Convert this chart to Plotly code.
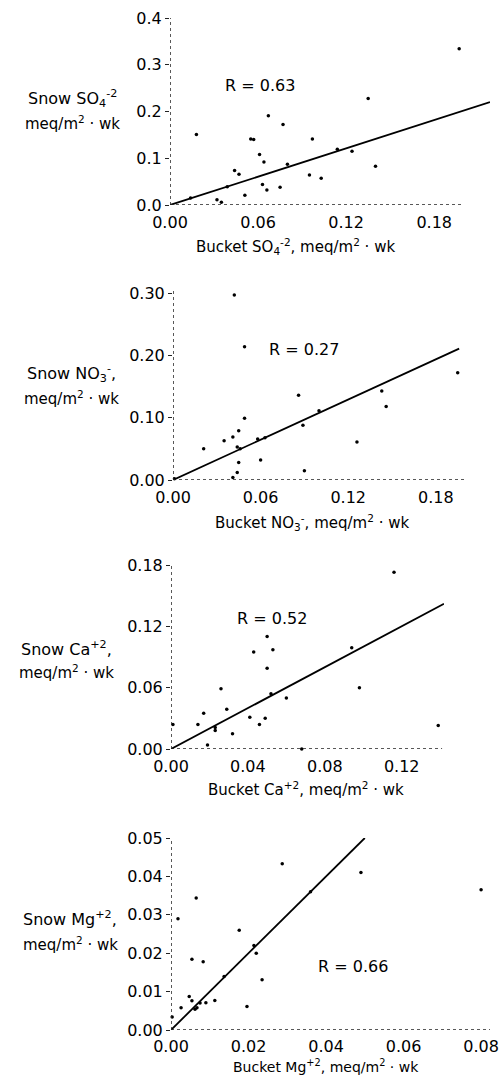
import plotly.graph_objects as go

W, H = 504, 1076
FONT = "DejaVu Sans"

# ---------------- data ----------------
so4_bucket = [0.197, 0.135, 0.067, 0.077, 0.018, 0.055, 0.057, 0.097, 0.061, 0.064, 0.080, 0.114, 0.124,
              0.140, 0.044, 0.047, 0.095, 0.103, 0.039, 0.063, 0.066, 0.075, 0.051, 0.032, 0.035, 0.014]
so4_snow = [0.334, 0.228, 0.191, 0.172, 0.151, 0.141, 0.140, 0.141, 0.108, 0.092, 0.087, 0.119, 0.115,
            0.083, 0.074, 0.066, 0.064, 0.057, 0.039, 0.044, 0.032, 0.038, 0.021, 0.011, 0.006, 0.015]
so4_fit_x = [0.0, 0.218]
so4_fit_y = [0.0, 0.220]

no3_bucket = [0.042, 0.049, 0.195, 0.086, 0.143, 0.146, 0.100, 0.049, 0.089, 0.021, 0.035, 0.041,
              0.045, 0.044, 0.046, 0.058, 0.063, 0.126, 0.060, 0.045, 0.044, 0.041, 0.090, 0.001]
no3_snow = [0.297, 0.214, 0.172, 0.136, 0.143, 0.118, 0.111, 0.099, 0.088, 0.050, 0.063, 0.069,
            0.079, 0.053, 0.050, 0.066, 0.068, 0.061, 0.032, 0.028, 0.012, 0.004, 0.015, 0.002]
no3_fit_x = [0.0, 0.196]
no3_fit_y = [0.0, 0.211]

ca_bucket = [0.116, 0.050, 0.043, 0.053, 0.050, 0.094, 0.098, 0.026, 0.052, 0.060, 0.029, 0.017,
             0.041, 0.049, 0.014, 0.023, 0.023, 0.046, 0.032, 0.019, 0.001, 0.139, 0.068]
ca_snow = [0.173, 0.110, 0.095, 0.097, 0.079, 0.099, 0.060, 0.059, 0.054, 0.050, 0.039, 0.035,
           0.031, 0.030, 0.024, 0.021, 0.018, 0.024, 0.015, 0.004, 0.024, 0.023, 0.000]
ca_fit_x = [0.0, 0.142]
ca_fit_y = [0.0, 0.142]

mg_bucket = [0.0287, 0.049, 0.080, 0.036, 0.0065, 0.0018, 0.0176, 0.0214, 0.022, 0.0054, 0.0083, 0.0137,
             0.0235, 0.0047, 0.0054, 0.0113, 0.009, 0.0075, 0.0026, 0.0067, 0.0062, 0.0196, 0.0003]
mg_snow = [0.0433, 0.041, 0.0365, 0.036, 0.0344, 0.029, 0.026, 0.022, 0.020, 0.0184, 0.0178, 0.0139,
           0.0131, 0.0087, 0.0076, 0.0077, 0.0071, 0.0070, 0.0058, 0.0058, 0.0054, 0.0061, 0.0034]
mg_fit_x = [0.0, 0.050]
mg_fit_y = [0.0, 0.050]

r_labels = ["R = 0.63", "R = 0.27", "R = 0.52", "R = 0.66"]
r_pos_x = [0.061, 0.090, 0.0525, 0.047]
r_pos_y = [0.255, 0.209, 0.128, 0.0165]

x_ticks = [[0.0, 0.06, 0.12, 0.18], [0.0, 0.06, 0.12, 0.18], [0.0, 0.04, 0.08, 0.12], [0.0, 0.02, 0.04, 0.06, 0.08]]
x_ticktext = [["0.00", "0.06", "0.12", "0.18"], ["0.00", "0.06", "0.12", "0.18"],
              ["0.00", "0.04", "0.08", "0.12"], ["0.00", "0.02", "0.04", "0.06", "0.08"]]
y_ticks = [[0.0, 0.1, 0.2, 0.3, 0.4], [0.0, 0.10, 0.20, 0.30], [0.0, 0.06, 0.12, 0.18],
           [0.0, 0.01, 0.02, 0.03, 0.04, 0.05]]
y_ticktext = [["0.0", "0.1", "0.2", "0.3", "0.4"], ["0.00", "0.10", "0.20", "0.30"],
              ["0.00", "0.06", "0.12", "0.18"], ["0.00", "0.01", "0.02", "0.03", "0.04", "0.05"]]

x_titles = ["Bucket SO<sub>4</sub><sup>-2</sup>, meq/m<sup>2</sup> · wk",
            "Bucket NO<sub>3</sub><sup>-</sup>, meq/m<sup>2</sup> · wk",
            "Bucket Ca<sup>+2</sup>, meq/m<sup>2</sup> · wk",
            "Bucket Mg<sup>+2</sup>, meq/m<sup>2</sup> · wk"]
y_titles_1 = ["Snow SO<sub>4</sub><sup>-2</sup>", "Snow NO<sub>3</sub><sup>-</sup>,",
              "Snow Ca<sup>+2</sup>,", "Snow Mg<sup>+2</sup>,"]
y_titles_2 = ["meq/m<sup>2</sup> · wk"] * 4

# axis extents (data units) and ranges
x_range = [[0, 0.218], [0, 0.2], [0, 0.142], [0, 0.0823]]
y_range = [[0, 0.4], [0, 0.305], [0, 0.18], [0, 0.05]]
x_axis_end = [0.2, 0.2, 0.141, 0.0823]
y_axis_end = [0.4, 0.305, 0.18, 0.05]

# ---------------- layout in pixels ----------------
px_x = [(170, 490), (173, 465), (171, 444), (171, 490)]
px_y = [(18, 205), (290, 480), (565, 749), (838, 1030)]  # top, bottom
x_title_px = [(295, 246), (312, 522), (306, 789), (326, 1066)]
x_title_size = [15, 15, 15, 14]
x_tick_len = [3, 3, 3, 2]
y_title_px = [(72, 98, 123), (71, 373, 398), (66, 648, 672), (70, 918, 944)]

panels = [(so4_bucket, so4_snow, so4_fit_x, so4_fit_y),
          (no3_bucket, no3_snow, no3_fit_x, no3_fit_y),
          (ca_bucket, ca_snow, ca_fit_x, ca_fit_y),
          (mg_bucket, mg_snow, mg_fit_x, mg_fit_y)]

fig = go.Figure()
layout = dict(template="none", width=W, height=H,
              margin=dict(l=0, r=0, t=0, b=0, pad=0, autoexpand=False),
              paper_bgcolor="white", plot_bgcolor="white", showlegend=False,
              font=dict(family=FONT, size=16, color="black"))
annotations = []
shapes = []

for i, (bx, sy, fx, fy) in enumerate(panels):
    n = "" if i == 0 else str(i + 1)
    xa, ya = "x" + n, "y" + n
    fig.add_trace(go.Scatter(x=fx, y=fy, mode="lines", line=dict(color="black", width=1.8),
                             xaxis=xa, yaxis=ya, hoverinfo="skip"))
    fig.add_trace(go.Scatter(x=bx, y=sy, mode="markers", marker=dict(color="black", size=3.5),
                             xaxis=xa, yaxis=ya, cliponaxis=False))
    x0, x1 = px_x[i]
    t, b = px_y[i]
    layout["xaxis" + n] = dict(domain=[x0 / W, x1 / W], range=x_range[i], anchor=ya, automargin=False,
                               showgrid=False, zeroline=False, showline=False,
                               tickvals=x_ticks[i], ticktext=x_ticktext[i],
                               ticks="outside", ticklen=x_tick_len[i], tickcolor="rgba(0,0,0,0)",
                               tickfont=dict(size=16, family=FONT, color="black"))
    layout["yaxis" + n] = dict(domain=[1 - b / H, 1 - t / H], range=y_range[i], anchor=xa, automargin=False,
                               showgrid=False, zeroline=False, showline=False,
                               tickvals=y_ticks[i], ticktext=y_ticktext[i],
                               ticks="outside", ticklen=4, tickwidth=1, tickcolor="#222",
                               tickfont=dict(size=16, family=FONT, color="black"))
    # axis lines
    shapes.append(dict(type="line", xref=xa, yref=ya, x0=0, y0=0, x1=x_axis_end[i], y1=0,
                       line=dict(color="#222", width=1.5, dash="dot")))
    shapes.append(dict(type="line", xref=xa, yref=ya, x0=0, y0=0, x1=0, y1=y_axis_end[i],
                       line=dict(color="#222", width=1.5, dash="dot")))
    # R label
    annotations.append(dict(xref=xa, yref=ya, x=r_pos_x[i], y=r_pos_y[i], text=r_labels[i],
                            showarrow=False, font=dict(size=16, family=FONT)))
    # x title
    cx, cy = x_title_px[i]
    annotations.append(dict(xref="paper", yref="paper", x=cx / W, y=1 - cy / H, text=x_titles[i],
                            showarrow=False, xanchor="center", yanchor="middle",
                            font=dict(size=x_title_size[i], family=FONT)))
    # y title (two lines)
    tx, ty1, ty2 = y_title_px[i]
    annotations.append(dict(xref="paper", yref="paper", x=tx / W, y=1 - ty1 / H, text=y_titles_1[i],
                            showarrow=False, xanchor="center", yanchor="middle",
                            font=dict(size=16, family=FONT)))
    annotations.append(dict(xref="paper", yref="paper", x=tx / W, y=1 - ty2 / H, text=y_titles_2[i],
                            showarrow=False, xanchor="center", yanchor="middle",
                            font=dict(size=15, family=FONT)))

layout["annotations"] = annotations
layout["shapes"] = shapes
fig.update_layout(**layout)
fig.write_html("out.html", config={"displayModeBar": False},
               post_script="document.body.style.margin='0';document.body.style.overflow='hidden';")
